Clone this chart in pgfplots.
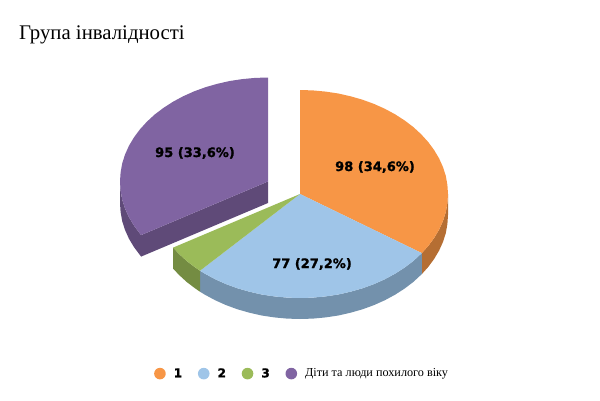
\documentclass[border=0pt]{standalone}
\usepackage{fontspec}
\usepackage{pgfplots}
\pgfplotsset{compat=1.18}
\setmainfont{Liberation Serif}
\newfontfamily\labelfont{DejaVu Sans}[BoldFeatures={FakeBold=1.2}]

\definecolor{orangetop}{HTML}{F79646}
\definecolor{orangeside}{HTML}{B56E33}
\definecolor{bluetop}{HTML}{9FC5E8}
\definecolor{blueside}{HTML}{7391AC}
\definecolor{greentop}{HTML}{9BBB59}
\definecolor{greenside}{HTML}{748C42}
\definecolor{purpletop}{HTML}{8064A2}
\definecolor{purpleside}{HTML}{5F4A78}

\begin{document}
\begin{tikzpicture}
\useasboundingbox (0,0) rectangle (600pt,400pt);
\begin{axis}[
    scale only axis,
    width=600pt,
    height=400pt,
    xmin=0, xmax=600,
    ymin=0, ymax=400,
    y dir=reverse,
    hide axis,
    clip=false,
    legend columns=4,
    legend cell align=left,
    legend image code/.code={\fill[#1] (0pt,0pt) circle (5.8pt);},
    legend style={
        draw=none, fill=none,
        at={(0.5035,0.066)}, anchor=center,
        font=\fontsize{12.2}{14}\selectfont,
        /tikz/every odd column/.append style={column sep=6pt},
        /tikz/every even column/.append style={column sep=13.7pt},
    },
]
% side walls, in pixel coordinates of the picture
\addplot[draw=none, fill=orangeside, forget plot] coordinates {
 (448,194) (447.4,203.1) (445.8,212.1) (443,220.9) (439.1,229.6) (434.1,238) (428.2,246) (421.8,253.1)
 (421.8,274.1) (428.2,267) (434.1,259) (439.1,250.6) (443,241.9) (445.8,233.1) (447.4,224.1) (448,215)
} --cycle;
\addplot[draw=none, fill=blueside, forget plot] coordinates {
 (421.8,253.1) (413.4,260.9) (404.7,267.5) (395.1,273.7) (384.9,279.2) (374,284.1) (362.5,288.3) (350.6,291.7)
 (338.3,294.5) (325.7,296.4) (312.9,297.6) (300,298) (287.1,297.6) (274.3,296.4) (261.7,294.5) (249.4,291.7)
 (237.5,288.3) (226,284.1) (215.1,279.2) (204.9,273.7) (200,270.7)
 (200,291.7) (204.9,294.7) (215.1,300.2) (226,305.1) (237.5,309.3) (249.4,312.7) (261.7,315.5) (274.3,317.4)
 (287.1,318.6) (300,319) (312.9,318.6) (325.7,317.4) (338.3,315.5) (350.6,312.7) (362.5,309.3) (374,305.1)
 (384.9,300.2) (395.1,294.7) (404.7,288.5) (413.4,281.9) (421.8,274.1)
} --cycle;
\addplot[draw=none, fill=greenside, forget plot] coordinates {
 (200,270.7) (195.3,267.5) (186.6,260.9) (178.8,253.7) (173.1,247.6)
 (173.1,268.6) (178.8,274.7) (186.6,281.9) (195.3,288.5) (200,291.7)
} --cycle;
\addplot[draw=none, fill=purpleside, forget plot] coordinates {
 (141.1,235.1) (133.9,225.5) (128.9,217.1) (125,208.4) (122.2,199.6) (120.6,190.6) (120,181.5)
 (120,203) (120.6,212.1) (122.2,221.1) (125,229.9) (128.9,238.6) (133.9,247) (141.1,256.6)
} --cycle;
\addplot[draw=none, fill=purpleside, forget plot] coordinates {
 (141.1,235.1) (268,181.5) (268,203) (141.1,256.6)
} --cycle;
% top faces
\addplot[draw=none, fill=orangetop] coordinates {
 (300,194) (300,90) (312.9,90.4) (325.7,91.6) (338.3,93.5) (350.6,96.3) (362.5,99.7) (374,103.9) (384.9,108.8)
 (395.1,114.3) (404.7,120.5) (413.4,127.1) (421.2,134.3) (428.2,142) (434.1,150) (439.1,158.4) (443,167.1)
 (445.8,175.9) (447.4,184.9) (448,194) (447.4,203.1) (445.8,212.1) (443,220.9) (439.1,229.6) (434.1,238)
 (428.2,246) (421.8,253.1)
} --cycle;
\addplot[draw=none, fill=bluetop] coordinates {
 (300,194) (421.8,253.1) (413.4,260.9) (404.7,267.5) (395.1,273.7) (384.9,279.2) (374,284.1) (362.5,288.3)
 (350.6,291.7) (338.3,294.5) (325.7,296.4) (312.9,297.6) (300,298) (287.1,297.6) (274.3,296.4) (261.7,294.5)
 (249.4,291.7) (237.5,288.3) (226,284.1) (215.1,279.2) (204.9,273.7) (200,270.7)
} --cycle;
\addplot[draw=none, fill=greentop] coordinates {
 (300,194) (200,270.7) (195.3,267.5) (186.6,260.9) (178.8,253.7) (173.1,247.6)
} --cycle;
\addplot[draw=none, fill=purpletop] coordinates {
 (268,181.5) (141.1,235.1) (133.9,225.5) (128.9,217.1) (125,208.4) (122.2,199.6) (120.6,190.6) (120,181.5)
 (120.6,172.4) (122.2,163.4) (125,154.6) (128.9,145.9) (133.9,137.5) (139.8,129.5) (146.8,121.8) (154.6,114.6)
 (163.3,108) (172.9,101.8) (183.1,96.3) (194,91.4) (205.5,87.2) (217.4,83.8) (229.7,81) (242.3,79.1)
 (255.1,77.9) (268,77.5)
} --cycle;
% slice labels
\addplot[
    only marks, mark=none, forget plot,
    point meta=explicit symbolic,
    nodes near coords,
    nodes near coords style={anchor=center, inner sep=0pt, font=\labelfont\bfseries\fontsize{13}{15}\selectfont},
] coordinates {
 (375,167) [{98 (34,6\%)}]
 (312,264) [{77 (27,2\%)}]
 (195,153) [{95 (33,6\%)}]
};
\legend{{\labelfont\bfseries 1},{\labelfont\bfseries 2},{\labelfont\bfseries 3},Діти та люди похилого віку}
\node[anchor=west, inner sep=0pt, font=\fontsize{20.8}{24}\selectfont] at (axis cs:19,35) {Група інвалідності};
\end{axis}
\end{tikzpicture}
\end{document}
